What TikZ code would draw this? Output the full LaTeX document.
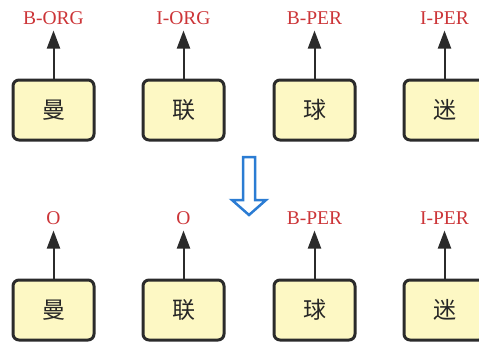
\documentclass[tikz,border=0pt]{standalone}
\usepackage{fontspec}
\setmainfont{Liberation Serif}
\newfontfamily\cjk{Noto Sans CJK SC}
\usetikzlibrary{arrows.meta}
\definecolor{tagred}{HTML}{CC3538}
\definecolor{boxfill}{HTML}{FDF8C4}
\definecolor{boxline}{HTML}{2B2B2B}
\definecolor{flowblue}{HTML}{2B7CD3}
\tikzset{
  tokbox/.style={draw=boxline, line width=3pt, fill=boxfill, rounded corners=6pt,
    minimum width=81pt, minimum height=60pt, inner sep=0pt, font=\cjk\fontsize{23}{25}\selectfont, text=black!85},
  tagtext/.style={text=tagred, font=\fontsize{19.5}{21}\selectfont, inner sep=0pt},
  tagarrow/.style={draw=boxline, line width=2pt, -{Triangle[width=13pt,length=18pt]}}
}
\begin{document}
\begin{tikzpicture}[x=1pt,y=-1pt]
\useasboundingbox (0,0) rectangle (479,341);
\clip (0,0) rectangle (479,341);
% top row: tags before correction
\foreach \i/\x/\ch/\tg in {1/53.5/曼/B-ORG, 2/183.5/联/I-ORG, 3/314.5/球/B-PER, 4/444.5/迷/I-PER}{
  \node[tokbox] (t\i) at (\x,110) {\ch};
  \node[tagtext] (tl\i) at (\x,18.5) {\tg};
  \draw[tagarrow] (t\i.north) -- ([yshift=-12pt]tl\i.center);
}
% bottom row: tags after correction
\foreach \i/\x/\ch/\tg in {1/53.5/曼/O, 2/183.5/联/O, 3/314.5/球/B-PER, 4/444.5/迷/I-PER}{
  \node[tokbox] (b\i) at (\x,310) {\ch};
  \node[tagtext] (bl\i) at (\x,218.5) {\tg};
  \draw[tagarrow] (b\i.north) -- ([yshift=-12pt]bl\i.center);
}
% hollow transition arrow
\draw[flowblue, line width=2.5pt, line join=miter]
  (243,157) -- (255,157) -- (255,200) -- (266,200) -- (249,215) -- (232,200) -- (243,200) -- cycle;
\end{tikzpicture}
\end{document}
